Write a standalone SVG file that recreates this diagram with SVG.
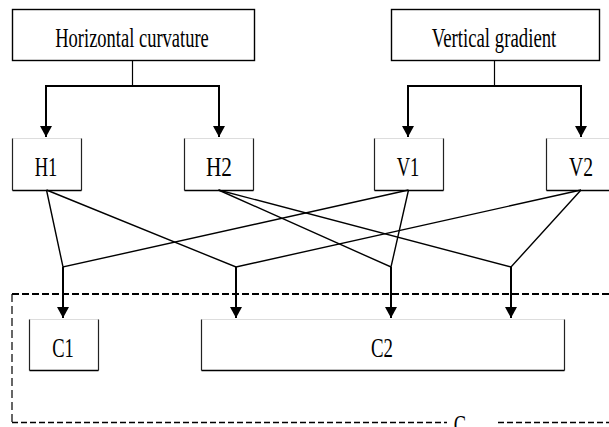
<svg xmlns="http://www.w3.org/2000/svg" width="609" height="427" viewBox="0 0 609 427">
<defs>
<marker id="ah" markerUnits="userSpaceOnUse" markerWidth="12" markerHeight="16" refX="11" refY="6" orient="auto">
<path d="M0,0 L11,6 L0,12 Z" fill="#000"/>
</marker>
<style>
text{font-family:"Liberation Serif","Times New Roman",serif;font-size:28px;fill:#000;text-anchor:middle}
.box{fill:#fff;stroke:#000;stroke-width:1.4}
.side{fill:none;stroke:#222;stroke-width:1.2}
.bot{fill:none;stroke:#000;stroke-width:1.5}
.topf{fill:none;stroke:#ddd;stroke-width:1}
.thin{fill:none;stroke:#000;stroke-width:1.4}
.arr{fill:none;stroke:#000;stroke-width:2;marker-end:url(#ah)}
.bar{fill:none;stroke:#000;stroke-width:2}
.stem{fill:none;stroke:#000;stroke-width:1.2}
</style>
</defs>
<rect width="609" height="427" fill="#fff"/>

<g id="groupC">
<line x1="12" y1="294" x2="609" y2="294" stroke="#000" stroke-width="2" stroke-dasharray="7,3"/>
<line x1="12" y1="294" x2="12" y2="422" stroke="#000" stroke-width="1.2" stroke-dasharray="8,4"/>
<line x1="12" y1="422.5" x2="447" y2="422.5" stroke="#000" stroke-width="1.5" stroke-dasharray="6,3"/>
<line x1="498" y1="422.5" x2="609" y2="422.5" stroke="#000" stroke-width="1.5" stroke-dasharray="6,3"/>
<text x="460" y="434" textLength="12.3" lengthAdjust="spacingAndGlyphs">C</text>
</g>

<g id="connectors">
<line class="stem" x1="132.5" y1="60" x2="132.5" y2="86"/>
<polyline class="bar" points="46,137 46,86 219,86 219,137" style="marker:none"/>
<line class="arr" x1="46" y1="100" x2="46" y2="137"/>
<line class="arr" x1="219" y1="100" x2="219" y2="137"/>
<line class="stem" x1="494.5" y1="60" x2="494.5" y2="86"/>
<polyline class="bar" points="408,137 408,86 581,86 581,137"/>
<line class="arr" x1="408" y1="100" x2="408" y2="137"/>
<line class="arr" x1="581" y1="100" x2="581" y2="137"/>

<polyline class="thin" points="46.5,190 63,267 408.5,190"/>
<polyline class="thin" points="46.5,190 236,267 581,190"/>
<polyline class="thin" points="218.5,190 391,267 408.5,190"/>
<polyline class="thin" points="218.5,190 511,267 581,190"/>

<line class="arr" x1="63" y1="267" x2="63" y2="318"/>
<line class="arr" x1="236" y1="267" x2="236" y2="318"/>
<line class="arr" x1="391" y1="267" x2="391" y2="318"/>
<line class="arr" x1="511" y1="267" x2="511" y2="318"/>
</g>

<g id="horizontal-curvature">
<rect class="box" x="12.5" y="9.5" width="242" height="51"/>
<text x="132" y="46.5" textLength="153.5" lengthAdjust="spacingAndGlyphs">Horizontal curvature</text>
</g>
<g id="vertical-gradient">
<rect class="box" x="391.5" y="9.5" width="208" height="51"/>
<text x="494" y="46.5" textLength="124.7" lengthAdjust="spacingAndGlyphs">Vertical gradient</text>
</g>

<g id="H1">
<line class="topf" x1="12.5" y1="138.5" x2="81.5" y2="138.5"/>
<path class="side" d="M12.5,138.5 V190.5 M81.5,138.5 V190.5"/>
<line class="bot" x1="12.5" y1="190.5" x2="81.5" y2="190.5"/>
<text x="46" y="176" textLength="22.6" lengthAdjust="spacingAndGlyphs">H1</text>
</g>
<g id="H2">
<line class="topf" x1="184.5" y1="138.5" x2="253.5" y2="138.5"/>
<path class="side" d="M184.5,138.5 V190.5 M253.5,138.5 V190.5"/>
<line class="bot" x1="184.5" y1="190.5" x2="253.5" y2="190.5"/>
<text x="219" y="176" textLength="26" lengthAdjust="spacingAndGlyphs">H2</text>
</g>
<g id="V1">
<line class="topf" x1="374.5" y1="138.5" x2="443.5" y2="138.5"/>
<path class="side" d="M374.5,138.5 V190.5 M443.5,138.5 V190.5"/>
<line class="bot" x1="374.5" y1="190.5" x2="443.5" y2="190.5"/>
<text x="408" y="176" textLength="22.6" lengthAdjust="spacingAndGlyphs">V1</text>
</g>
<g id="V2">
<line class="topf" x1="546.5" y1="138.5" x2="615" y2="138.5"/>
<path class="side" d="M546.5,138.5 V190.5"/>
<line class="bot" x1="546.5" y1="190.5" x2="615" y2="190.5"/>
<text x="581" y="176" textLength="24" lengthAdjust="spacingAndGlyphs">V2</text>
</g>
<g id="C1">
<line class="topf" x1="29.5" y1="319.5" x2="98.5" y2="319.5"/>
<path class="side" d="M29.5,319.5 V370.5 M98.5,319.5 V370.5"/>
<line class="bot" x1="29.5" y1="370.5" x2="98.5" y2="370.5"/>
<text x="63" y="357" textLength="21.6" lengthAdjust="spacingAndGlyphs">C1</text>
</g>
<g id="C2">
<line class="topf" x1="201.5" y1="319.5" x2="564.5" y2="319.5"/>
<path class="side" d="M201.5,319.5 V370.5 M564.5,319.5 V370.5"/>
<line class="bot" x1="201.5" y1="370.5" x2="564.5" y2="370.5"/>
<text x="382" y="357" textLength="22" lengthAdjust="spacingAndGlyphs">C2</text>
</g>
</svg>
